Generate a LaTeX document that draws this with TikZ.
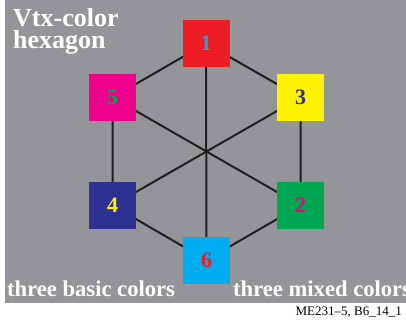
\documentclass[tikz,border=0pt]{standalone}
\usepackage{fontspec}
\setmainfont{Liberation Serif}
\definecolor{bggray}{RGB}{147,149,152}
\definecolor{cred}{RGB}{237,28,36}
\definecolor{cmag}{RGB}{236,0,140}
\definecolor{cyel}{RGB}{255,242,0}
\definecolor{cnavy}{RGB}{46,49,146}
\definecolor{cgreen}{RGB}{0,166,81}
\definecolor{ccyan}{RGB}{0,174,239}
\definecolor{clin}{RGB}{35,31,32}
\pgfdeclarelayer{bglayer}
\pgfdeclarelayer{edgelayer}
\pgfsetlayers{bglayer,edgelayer,main}
\tikzset{
  vbox/.style={draw=none,minimum width=47pt,minimum height=47pt,inner sep=0pt,
    font=\fontsize{22}{22}\selectfont\bfseries},
  edge/.style={draw=clin,line width=2pt},
  ttl/.style={anchor=base west,inner sep=0pt,text=white,font=\fontsize{26}{26}\selectfont\bfseries},
  lbl/.style={anchor=base west,inner sep=0pt,text=white,font=\fontsize{22.6}{22.6}\selectfont\bfseries}
}
\begin{document}
\begin{tikzpicture}[x=1pt,y=1pt]
\useasboundingbox (0,0) rectangle (406,325);
\begin{pgfonlayer}{bglayer}
\fill[bggray] (5,22.3) rectangle (406,325);
\end{pgfonlayer}
\node[vbox,fill=cred,text=ccyan] (n1) at (206,281.5) {1};
\node[vbox,fill=cmag,text=cgreen] (n5) at (112.5,227.5) {5};
\node[vbox,fill=cyel,text=cnavy] (n3) at (300.5,227.5) {3};
\node[vbox,fill=cnavy,text=cyel] (n4) at (112.5,119.5) {4};
\node[vbox,fill=cgreen,text=cmag] (n2) at (300.5,119.5) {2};
\node[vbox,fill=ccyan,text=cred] (n6) at (206.5,65) {6};
\begin{pgfonlayer}{edgelayer}
\path[edge] (n1.center) -- (n3.center) -- (n2.center) -- (n6.center) -- (n4.center) -- (n5.center) -- cycle;
\path[edge] (n1.center) -- (n6.center);
\path[edge] (n5.center) -- (n2.center);
\path[edge] (n3.center) -- (n4.center);
\end{pgfonlayer}
\node[ttl] (t1) at (13,299) {Vtx-color};
\node[ttl] (t2) at (13,276.5) {hexagon};
\node[lbl] (b1) at (7,29) {three basic colors};
\node[lbl] (b2) at (233,29) {three mixed colors};
\node[anchor=base east,inner sep=0pt,font=\fontsize{13}{13}\selectfont] (id) at (402,10) {ME231–5, B6\_14\_1};
\end{tikzpicture}
\end{document}
